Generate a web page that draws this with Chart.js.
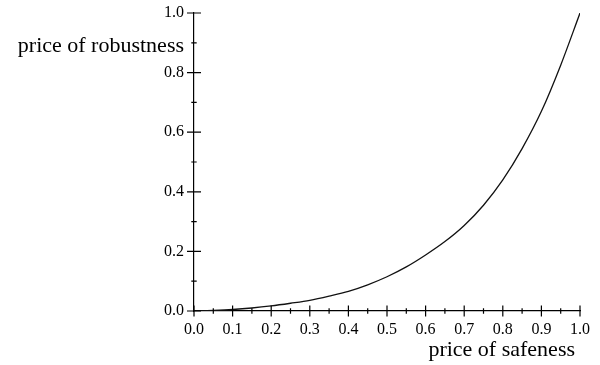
<!DOCTYPE html>
<html>
<head>
<meta charset="utf-8">
<script src="https://cdn.jsdelivr.net/npm/chart.js@4"></script>
<style>
  body { margin: 0; background: #fff; }
  #wrap { width: 600px; height: 365px; }
</style>
</head>
<body>
<div id="wrap"><canvas id="priceChart"></canvas></div>
<script>
// price of safeness (x) vs price of robustness (y)
const safeness = [0, 0.05, 0.1, 0.15, 0.2, 0.25, 0.3, 0.35, 0.4, 0.45, 0.5,
                  0.55, 0.6, 0.65, 0.7, 0.75, 0.8, 0.85, 0.9, 0.95, 1.0];
const robustness = [0, 0.002, 0.005, 0.010, 0.017, 0.026, 0.036, 0.05, 0.066, 0.088, 0.115,
                    0.148, 0.188, 0.233, 0.287, 0.355, 0.44, 0.545, 0.67, 0.825, 1.0];

const xTitle = 'price of safeness';
const yTitle = 'price of robustness';

const serif = 'Liberation Serif, Times New Roman, serif';

// ticks that cross the axis line, long on labelled steps and short in between
const crossTicks = {
    id: 'crossTicks',
    afterDraw(chart) {
        const ctx = chart.ctx;
        const xs = chart.scales.x;
        const ys = chart.scales.y;
        const x0 = xs.getPixelForValue(0);
        const y0 = ys.getPixelForValue(0);
        ctx.save();
        ctx.strokeStyle = '#000';
        ctx.lineWidth = 1.2;
        ctx.beginPath();
        xs.ticks.forEach(t => {
            const px = xs.getPixelForValue(t.value);
            const half = Math.round(t.value * 20) % 2 === 0 ? 5.5 : 2.7;
            ctx.moveTo(px, y0 - half);
            ctx.lineTo(px, y0 + half);
        });
        ys.ticks.forEach(t => {
            const py = ys.getPixelForValue(t.value);
            const half = Math.round(t.value * 10) % 2 === 0 ? 7 : 2.7;
            ctx.moveTo(x0 - half, py);
            ctx.lineTo(x0 + half, py);
        });
        ctx.stroke();

        ctx.fillStyle = '#000';
        ctx.font = '22px ' + serif;
        ctx.textBaseline = 'alphabetic';
        ctx.textAlign = 'right';
        ctx.fillText(yTitle, 184, 52);
        ctx.fillText(xTitle, 575, 356);
        ctx.restore();
    }
};

new Chart(document.getElementById('priceChart').getContext('2d'), {
    type: 'line',
    data: {
        datasets: [{
            data: safeness.map((v, i) => ({ x: v, y: robustness[i] })),
            borderColor: '#111',
            borderWidth: 1.3,
            pointRadius: 0,
            fill: false,
            cubicInterpolationMode: 'monotone'
        }]
    },
    options: {
        responsive: true,
        maintainAspectRatio: false,
        animation: false,
        layout: { padding: { left: 0, right: 20, top: 13, bottom: 0 } },
        plugins: {
            legend: { display: false },
            tooltip: { enabled: false }
        },
        scales: {
            x: {
                type: 'linear',
                min: 0,
                max: 1,
                afterFit: s => { s.height = 54; s.paddingLeft = 0; s.paddingRight = 0; },
                grid: { display: false, drawTicks: false },
                border: { display: true, color: '#000', width: 1.2 },
                ticks: {
                    stepSize: 0.05,
                    autoSkip: false,
                    maxRotation: 0,
                    padding: 9,
                    color: '#000',
                    font: { family: serif, size: 16 },
                    callback: v => Math.round(v * 20) % 2 === 0 ? v.toFixed(1) : ''
                }
            },
            y: {
                type: 'linear',
                min: 0,
                max: 1,
                afterFit: s => { s.width = 194; s.paddingTop = 0; s.paddingBottom = 0; },
                grid: { display: false, drawTicks: false },
                border: { display: true, color: '#000', width: 1.2 },
                ticks: {
                    stepSize: 0.1,
                    autoSkip: false,
                    padding: 10,
                    color: '#000',
                    font: { family: serif, size: 16 },
                    callback: v => Math.round(v * 10) % 2 === 0 ? v.toFixed(1) : ''
                }
            }
        }
    },
    plugins: [crossTicks]
});
</script>
</body>
</html>
